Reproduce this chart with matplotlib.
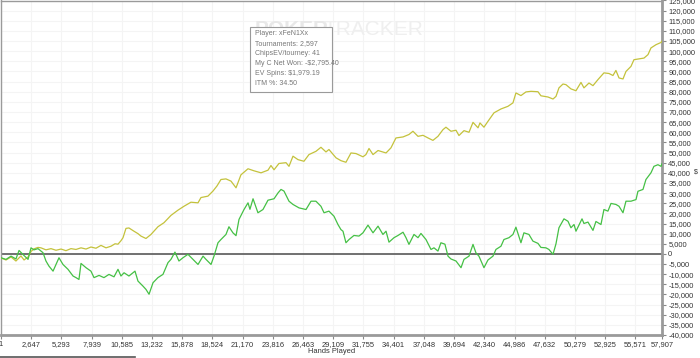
import matplotlib
matplotlib.use('Agg')
import matplotlib.pyplot as plt
from matplotlib.lines import Line2D
from matplotlib.patches import Rectangle

plt.rcParams['font.family'] = ['Liberation Sans', 'DejaVu Sans']

# EV line (yellow): hands played, chips in thousands
ev_hands = [1, 440, 880, 1310, 1750, 2020, 2370, 2630, 2890, 3240, 3500, 3940,
            4380, 4820, 5260, 5690, 6130, 6570, 7010, 7450, 7880, 8320, 8760,
            9200, 9640, 9990, 10250, 10510, 10690, 10950, 11210, 11650, 12000,
            12260, 12700, 13140, 13750, 14280, 14890, 15510, 16030, 16640,
            17260, 17520, 18130, 18570, 18920, 19270, 19710, 20150, 20590,
            21020, 21640, 22160, 22780, 23390, 23650, 23920, 24350, 24970,
            25230, 25580, 26020, 26540, 26980, 27590, 28030, 28470, 28730,
            29350, 29780, 30220, 30660, 31100, 31710, 31970, 32240, 32590,
            33030, 33730, 34160, 34600, 35220, 35740, 36090, 36530, 36970,
            37410, 37840, 38280, 38720, 38980, 39420, 39860, 40120, 40560,
            41000, 41350, 41790, 41960, 42310, 42660, 43190, 43800, 44410,
            44850, 45110, 45550, 45990, 46430, 47040, 47300, 47920, 48360,
            48620, 48880, 49230, 49490, 49930, 50370, 50810, 51070, 51510,
            51860, 52300, 52820, 53260, 53610, 53870, 54140, 54490, 54750,
            55190, 55450, 55890, 56330, 56680, 56940, 57380, 57820, 57907]
ev_won = [-2.0, -3.0, -1.5, -3.5, -1.0, -3.0, -1.5, 1.2, 2.5, 3.2, 3.0, 2.0,
          2.6, 1.8, 2.4, 1.6, 2.6, 2.2, 3.0, 2.4, 3.4, 2.8, 4.2,
          3.0, 3.8, 5.0, 4.8, 6.5, 8.0, 12.6, 12.8, 11.2, 10.0,
          8.8, 7.6, 9.6, 13.4, 15.4, 19.0, 21.6, 23.5, 25.5,
          25.2, 27.8, 28.5, 31.0, 33.5, 36.7, 37.0, 35.9, 32.6,
          39.0, 42.0, 41.0, 40.0, 41.3, 43.6, 41.5, 44.6, 45.0,
          43.2, 48.2, 46.5, 45.7, 49.0, 50.6, 52.6, 50.3, 51.5,
          47.4, 46.0, 45.2, 49.8, 49.5, 47.9, 49.0, 52.0, 49.0,
          51.0, 49.8, 52.3, 57.2, 57.7, 58.9, 60.5, 58.0, 58.5,
          57.2, 56.0, 58.0, 61.3, 62.5, 60.5, 61.0, 58.4, 60.8,
          60.0, 64.9, 62.2, 64.6, 62.5, 65.4, 69.6, 71.5, 72.8,
          74.5, 79.4, 78.1, 79.9, 80.2, 80.0, 78.0, 77.4, 76.4,
          77.7, 81.9, 83.8, 83.5, 81.4, 80.5, 84.6, 81.9, 84.3,
          83.0, 86.0, 89.3, 89.0, 88.0, 90.5, 86.8, 86.3, 90.0,
          92.5, 95.8, 96.2, 96.6, 98.3, 101.6, 103.2, 104.3, 105.0]

# Net won line (green)
net_hands = [1, 440, 880, 1310, 1580, 2020, 2370, 2630, 2890, 3240, 3680, 3940,
             4200, 4560, 4820, 5080, 5430, 5870, 6310, 6570, 6830, 7010, 7450,
             7880, 8150, 8590, 9020, 9460, 9900, 10250, 10510, 10780, 11210,
             11740, 12000, 12440, 12700, 12970, 13320, 13750, 14190, 14630,
             14890, 15240, 15590, 15940, 16380, 16820, 17260, 17700, 17960,
             18400, 18660, 19010, 19270, 19710, 19970, 20320, 20590, 20850,
             21290, 21640, 21810, 22080, 22510, 22950, 23390, 23920, 24270,
             24530, 24790, 25230, 25580, 26110, 26720, 27160, 27590, 28030,
             28300, 28730, 29170, 29520, 29780, 29960, 30220, 30490, 30920,
             31360, 31710, 32150, 32590, 33030, 33460, 33730, 33990, 34430,
             34780, 35220, 35480, 35740, 36180, 36530, 36790, 37230, 37670,
             37930, 38280, 38540, 38890, 39160, 39420, 39860, 40300, 40560,
             41000, 41350, 41610, 41870, 42310, 42660, 43100, 43360, 43800,
             44060, 44500, 44850, 45110, 45550, 45810, 46250, 46600, 47040,
             47300, 47740, 48000, 48360, 48620, 48880, 49320, 49670, 49930,
             50200, 50370, 50900, 51070, 51420, 51860, 52120, 52560, 52820,
             53170, 53440, 53870, 54140, 54490, 54750, 55190, 55630, 55800,
             56240, 56500, 56940, 57200, 57550, 57820, 57907]
net_won = [-1.9, -2.7, -1.1, -2.5, 1.7, -0.8, -2.7, 3.0, 2.0, 2.6, 0.6, -3.5,
           -6.0, -8.5, -5.2, -1.9, -5.2, -7.6, -10.9, -11.7, -12.6, -4.7, -6.8,
           -8.5, -11.7, -10.6, -11.7, -10.1, -11.3, -7.6, -10.9, -9.3, -10.9,
           -8.5, -13.4, -15.9, -17.5, -19.9, -14.2, -11.7, -10.1, -4.3,
           -2.7, 0.9, -3.5, -1.9, -0.2, -2.7, -5.2, -1.1, -2.7,
           -5.2, -1.1, 5.5, 7.1, 9.6, 13.4, 10.4, 9.0, 17.0,
           21.9, 25.2, 22.0, 27.2, 20.3, 21.9, 26.5, 27.2, 30.1,
           31.8, 31.0, 26.0, 24.4, 22.7, 21.9, 26.0, 26.0, 23.5,
           20.3, 21.1, 18.6, 14.5, 12.0, 11.2, 5.5, 7.1, 9.1,
           8.8, 10.4, 14.2, 10.4, 13.7, 9.6, 11.2, 5.8, 8.0,
           9.1, 10.7, 8.0, 4.7, 9.6, 8.0, 10.1, 7.1, 2.2,
           3.0, 1.4, 5.5, 4.8, -1.1, -2.5, -3.5, -6.8, -2.7,
           -1.1, 4.7, 0.5, -1.1, -6.8, -3.0, -1.1, 2.2, 3.8,
           7.1, 8.0, 9.6, 13.2, 5.5, 10.4, 9.6, 6.3, 5.2,
           3.2, 3.0, 2.2, -0.2, 5.0, 12.9, 17.3, 16.1, 12.9,
           14.5, 11.2, 17.3, 15.0, 15.7, 11.6, 16.0, 14.5, 21.9,
           21.1, 24.9, 24.4, 23.5, 20.3, 26.0, 26.0, 26.8, 30.9,
           31.8, 36.7, 40.0, 43.2, 44.0, 43.2, 44.5]

x_ticks = [1, 2647, 5293, 7939, 10585, 13232, 15878, 18524, 21170, 23816,
           26463, 29109, 31755, 34401, 37048, 39694, 42340, 44986, 47632,
           50279, 52925, 55571, 57907]
y_ticks = list(range(-40000, 125001, 5000))

info_lines = ['Player: xFeN1Xx', 'Tournaments: 2,597', 'ChipsEV/tourney: 41',
              'My C Net Won: -$2,795.40', 'EV Spins: $1,979.19', 'ITM %: 34.50']

W, H = 700, 358
fig = plt.figure(figsize=(7, 3.58), dpi=100)
ax = fig.add_axes([1 / W, 1 - 335 / H, 661 / W, 334.5 / H])

ax.plot(ev_hands, [v * 1000 for v in ev_won], color='#c4c23c', lw=0.9, zorder=3)
ax.plot(net_hands, [v * 1000 for v in net_won], color='#45c045', lw=0.9, zorder=4)
ax.axhline(0, color='#666666', lw=1.3, zorder=2)

ax.set_xlim(1, 57907)
ax.set_ylim(-40000, 125000)
ax.set_xticks(x_ticks)
ax.set_xticklabels(['{:,}'.format(t) for t in x_ticks])
ax.set_yticks(y_ticks)
ax.set_yticklabels(['{:,}'.format(t) for t in y_ticks])
ax.yaxis.tick_right()
ax.tick_params(axis='both', labelsize=5.4, colors='#333333', length=3,
               width=0.8, pad=1.5)
ax.tick_params(axis='y', color='#888888')
ax.tick_params(axis='x', color='#888888')
ax.grid(True, color='#f4f4f4', lw=0.8, zorder=0)

for side in ['top', 'left']:
    ax.spines[side].set_color('#9a9a9a')
    ax.spines[side].set_linewidth(1.0)
for side in ['right', 'bottom']:
    ax.spines[side].set_color('#9a9a9a')
    ax.spines[side].set_linewidth(2.0)

ax.set_xlabel('Hands Played', fontsize=5.4, color='#333333', labelpad=1)
ax.xaxis.set_label_coords(331 / 661, -13 / 334.5)

# watermark
fig.text(255 / W, 1 - 35 / H, 'POKER', fontsize=15, fontweight='bold',
         color='#e8e8e8', ha='left', va='baseline')
fig.text(324 / W, 1 - 35 / H, 'TRACKER', fontsize=15, color='#efefef',
         ha='left', va='baseline')

# info box
fig.add_artist(Rectangle((250 / W, 1 - 92 / H), 82 / W, 65 / H,
                         transform=fig.transFigure, facecolor='white',
                         edgecolor='#9a9a9a', lw=0.8, zorder=10))
for i, line in enumerate(info_lines):
    fig.text(255 / W, 1 - (33.5 + 10 * i) / H, line, fontsize=5.0,
             color='#777777', ha='left', va='center', zorder=11)

fig.text(696 / W, 1 - 172 / H, '$', fontsize=5, color='#333333',
         ha='center', va='center')
fig.add_artist(Line2D([0, 135 / W], [1 - 357 / H, 1 - 357 / H],
                      transform=fig.transFigure, color='#555555', lw=1.2))

fig.savefig('out.png', dpi=100)
